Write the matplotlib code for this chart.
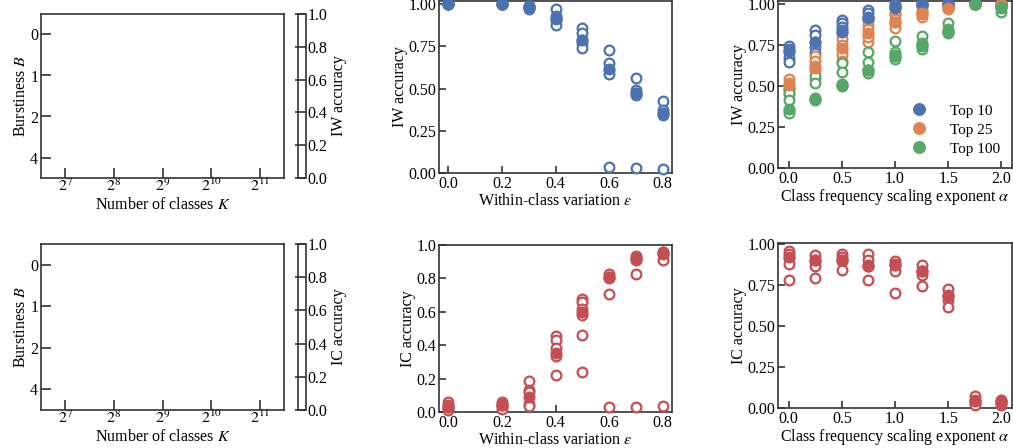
import numpy as np
import matplotlib

matplotlib.use('Agg')
import matplotlib.pyplot as plt
from matplotlib.colors import ListedColormap
from matplotlib.cm import ScalarMappable
from matplotlib.colors import Normalize

plt.rcParams['font.family'] = ['Liberation Serif', 'DejaVu Serif']
plt.rcParams['mathtext.fontset'] = 'stix'
plt.rcParams['font.size'] = 11.5

BLUE = '#4C72B0'
ORANGE = '#DD8452'
GREEN = '#55A868'
RED = '#C44E52'

# heatmap axes (empty grids)
k_labels = [r'$2^{7}$', r'$2^{8}$', r'$2^{9}$', r'$2^{10}$', r'$2^{11}$']
b_labels = ['0', '1', '2', '4']

# within-class variation sweep
eps_x = [0.0, 0.2, 0.3, 0.4, 0.5, 0.6, 0.7, 0.8]
iw_eps_seeds = [
    [1.0, 1.0, 1.0, 1.0, 1.0],
    [1.0, 1.0, 1.0, 1.0, 1.0],
    [0.988, 0.985, 0.975, 0.968, 0.99],
    [0.968, 0.929, 0.905, 0.875, 0.915],
    [0.858, 0.826, 0.79, 0.77, 0.737],
    [0.729, 0.652, 0.609, 0.585, 0.036],
    [0.565, 0.49, 0.474, 0.46, 0.03],
    [0.427, 0.372, 0.356, 0.342, 0.026],
]
iw_eps_median = [1.0, 1.0, 0.985, 0.912, 0.787, 0.615, 0.474, 0.356]

ic_eps_seeds = [
    [0.06, 0.044, 0.024, 0.014, 0.03],
    [0.06, 0.048, 0.034, 0.02, 0.04],
    [0.187, 0.13, 0.12, 0.05, 0.034],
    [0.458, 0.43, 0.382, 0.337, 0.219],
    [0.677, 0.657, 0.614, 0.578, 0.462, 0.239],
    [0.825, 0.81, 0.80, 0.705, 0.028],
    [0.937, 0.92, 0.91, 0.825, 0.03],
    [0.956, 0.944, 0.908, 0.96, 0.034],
]
ic_eps_median = [0.03, 0.04, 0.09, 0.355, 0.60, 0.81, 0.917, 0.948]

# class frequency scaling sweep
alpha_x = [0.0, 0.25, 0.5, 0.75, 1.0, 1.25, 1.5, 1.75, 2.0]
top10_seeds = [
    [0.745, 0.724, 0.71, 0.67, 0.649],
    [0.842, 0.81, 0.77, 0.74, 0.70],
    [0.903, 0.882, 0.862, 0.842, 0.82],
    [0.963, 0.943, 0.923, 0.903, 0.913],
    [1.0, 0.98, 0.975, 0.94, 0.99],
    [1.0, 0.99, 1.0, 0.995, 1.0],
    [1.0, 1.0, 1.0, 1.0, 1.0],
    [1.0, 1.0, 1.0, 1.0, 1.0],
    [1.0, 1.0, 1.0, 1.0, 1.0],
]
top10_median = [0.715, 0.77, 0.83, 0.913, 0.975, 1.0, 1.0, 1.0, 1.0]

top25_seeds = [
    [0.54, 0.52, 0.497, 0.45, 0.48],
    [0.68, 0.655, 0.62, 0.595, 0.54],
    [0.785, 0.75, 0.72, 0.69, 0.65],
    [0.872, 0.846, 0.81, 0.77, 0.80],
    [0.943, 0.907, 0.88, 0.852, 0.89],
    [0.963, 0.947, 0.923, 0.94, 0.95],
    [0.984, 0.968, 0.975, 0.98, 0.99],
    [1.0, 1.0, 1.0, 1.0, 1.0],
    [1.0, 0.984, 1.0, 0.99, 1.0],
]
top25_median = [0.507, 0.61, 0.73, 0.82, 0.89, 0.943, 0.975, 1.0, 1.0]

top100_seeds = [
    [0.48, 0.456, 0.416, 0.355, 0.335],
    [0.558, 0.52, 0.426, 0.416, 0.42],
    [0.64, 0.588, 0.513, 0.50, 0.505],
    [0.71, 0.649, 0.598, 0.582, 0.60],
    [0.777, 0.71, 0.69, 0.663, 0.68],
    [0.805, 0.76, 0.724, 0.75, 0.745],
    [0.886, 0.846, 0.82, 0.83, 0.835],
    [1.0, 1.0, 1.0, 1.0, 1.0],
    [0.953, 0.984, 0.99, 0.975, 0.98],
]
top100_median = [0.36, 0.42, 0.505, 0.60, 0.68, 0.75, 0.83, 1.0, 0.984]

ic_alpha_seeds = [
    [0.959, 0.939, 0.915, 0.878, 0.783],
    [0.935, 0.898, 0.864, 0.793, 0.905],
    [0.939, 0.919, 0.894, 0.843, 0.905],
    [0.939, 0.905, 0.870, 0.783, 0.864],
    [0.894, 0.878, 0.837, 0.701, 0.87],
    [0.870, 0.837, 0.813, 0.742, 0.833],
    [0.728, 0.691, 0.661, 0.614, 0.681],
    [0.071, 0.051, 0.030, 0.041, 0.02],
    [0.051, 0.037, 0.020, 0.045, 0.03],
]
ic_alpha_median = [0.919, 0.905, 0.905, 0.864, 0.87, 0.833, 0.681, 0.041, 0.037]

W, H = 1013, 448
fig = plt.figure(figsize=(W / 100, H / 100), dpi=100)


def px_axes(left, right, top, bottom):
    return fig.add_axes([left / W, 1 - bottom / H, (right - left) / W, (bottom - top) / H])


def style(ax):
    for s in ax.spines.values():
        s.set_linewidth(1.2)
        s.set_color('#333333')
    ax.tick_params(direction='in', length=5, width=1.2, color='#333333', labelsize=11.5, pad=2)


def scatter_sweep(ax, xs, seeds, medians, color, label=None):
    for x, vals in zip(xs, seeds):
        ax.plot([x] * len(vals), vals, 'o', ms=7, mfc='white', mec=color, mew=1.6,
                ls='none', clip_on=False, zorder=3)
    ax.plot(xs, medians, 'o', ms=7, mfc=color, mec=color, mew=1.6, ls='none',
            clip_on=False, zorder=4, label=label)


def heatmap(top, bottom, cbar_label):
    ax = px_axes(41, 284, top, bottom)
    grid = np.full((len(b_labels), len(k_labels)), np.nan)
    ax.imshow(grid, aspect='auto', vmin=0, vmax=1, cmap=ListedColormap(['white']))
    ax.set_xticks(range(len(k_labels)))
    ax.set_xticklabels(k_labels, fontsize=12.5)
    ax.set_yticks(range(len(b_labels)))
    ax.set_yticklabels(b_labels)
    style(ax)
    ax.tick_params(length=7)
    ax.tick_params(axis='x', pad=0)
    ax.set_xlabel(r'Number of classes $K$', labelpad=1)
    ax.set_ylabel(r'Burstiness $B$', labelpad=1)
    cax = px_axes(298, 306, top, bottom)
    sm = ScalarMappable(norm=Normalize(0, 1), cmap=ListedColormap(['white']))
    cb = fig.colorbar(sm, cax=cax)
    cb.set_ticks([0.0, 0.2, 0.4, 0.6, 0.8, 1.0])
    cb.outline.set_linewidth(1.2)
    cb.outline.set_edgecolor('#333333')
    cax.tick_params(direction='in', length=8, width=1.2, color='#333333', labelsize=11.5, pad=1)
    cb.set_label(cbar_label, labelpad=3)


heatmap(14, 178, 'IW accuracy')
heatmap(244, 410, 'IC accuracy')

# middle column
ax = px_axes(439, 672, 1, 173)
scatter_sweep(ax, eps_x, iw_eps_seeds, iw_eps_median, BLUE)
ax.set_xlim(-0.035, 0.835)
ax.set_ylim(0, 1.018)
ax.set_xticks([0.0, 0.2, 0.4, 0.6, 0.8])
ax.set_yticks([0.0, 0.25, 0.5, 0.75, 1.0])
ax.yaxis.set_major_formatter('{x:.2f}')
ax.xaxis.set_major_formatter('{x:.1f}')
style(ax)
ax.set_xlabel(r'Within-class variation $\varepsilon$', labelpad=1)
ax.set_ylabel('IW accuracy', labelpad=0)

ax = px_axes(439, 672, 245, 412)
scatter_sweep(ax, eps_x, ic_eps_seeds, ic_eps_median, RED)
ax.set_xlim(-0.035, 0.835)
ax.set_ylim(0, 1.0)
ax.set_xticks([0.0, 0.2, 0.4, 0.6, 0.8])
ax.set_yticks([0.0, 0.2, 0.4, 0.6, 0.8, 1.0])
ax.yaxis.set_major_formatter('{x:.1f}')
ax.xaxis.set_major_formatter('{x:.1f}')
style(ax)
ax.set_xlabel(r'Within-class variation $\varepsilon$', labelpad=1)
ax.set_ylabel('IC accuracy', labelpad=0)

# right column
ax = px_axes(778, 1012, 1, 168)
scatter_sweep(ax, alpha_x, top10_seeds, top10_median, BLUE, 'Top 10')
scatter_sweep(ax, alpha_x, top25_seeds, top25_median, ORANGE, 'Top 25')
scatter_sweep(ax, alpha_x, top100_seeds, top100_median, GREEN, 'Top 100')
ax.set_xlim(-0.1, 2.1)
ax.set_ylim(0, 1.018)
ax.set_xticks([0.0, 0.5, 1.0, 1.5, 2.0])
ax.set_yticks([0.0, 0.25, 0.5, 0.75, 1.0])
ax.yaxis.set_major_formatter('{x:.2f}')
ax.xaxis.set_major_formatter('{x:.1f}')
style(ax)
ax.set_xlabel(r'Class frequency scaling exponent $\alpha$', labelpad=0)
ax.set_ylabel('IW accuracy', labelpad=0)
ax.legend(loc='lower right', frameon=False, fontsize=11, handletextpad=1.0,
          borderaxespad=0.4, labelspacing=0.35, markerscale=1.1)

ax = px_axes(778, 1012, 243, 408)
scatter_sweep(ax, alpha_x, ic_alpha_seeds, ic_alpha_median, RED)
ax.set_xlim(-0.1, 2.1)
ax.set_ylim(0, 1.006)
ax.set_xticks([0.0, 0.5, 1.0, 1.5, 2.0])
ax.set_yticks([0.0, 0.25, 0.5, 0.75, 1.0])
ax.yaxis.set_major_formatter('{x:.2f}')
ax.xaxis.set_major_formatter('{x:.1f}')
style(ax)
ax.set_xlabel(r'Class frequency scaling exponent $\alpha$', labelpad=0)
ax.set_ylabel('IC accuracy', labelpad=0)

fig.savefig('out.png', dpi=100)
